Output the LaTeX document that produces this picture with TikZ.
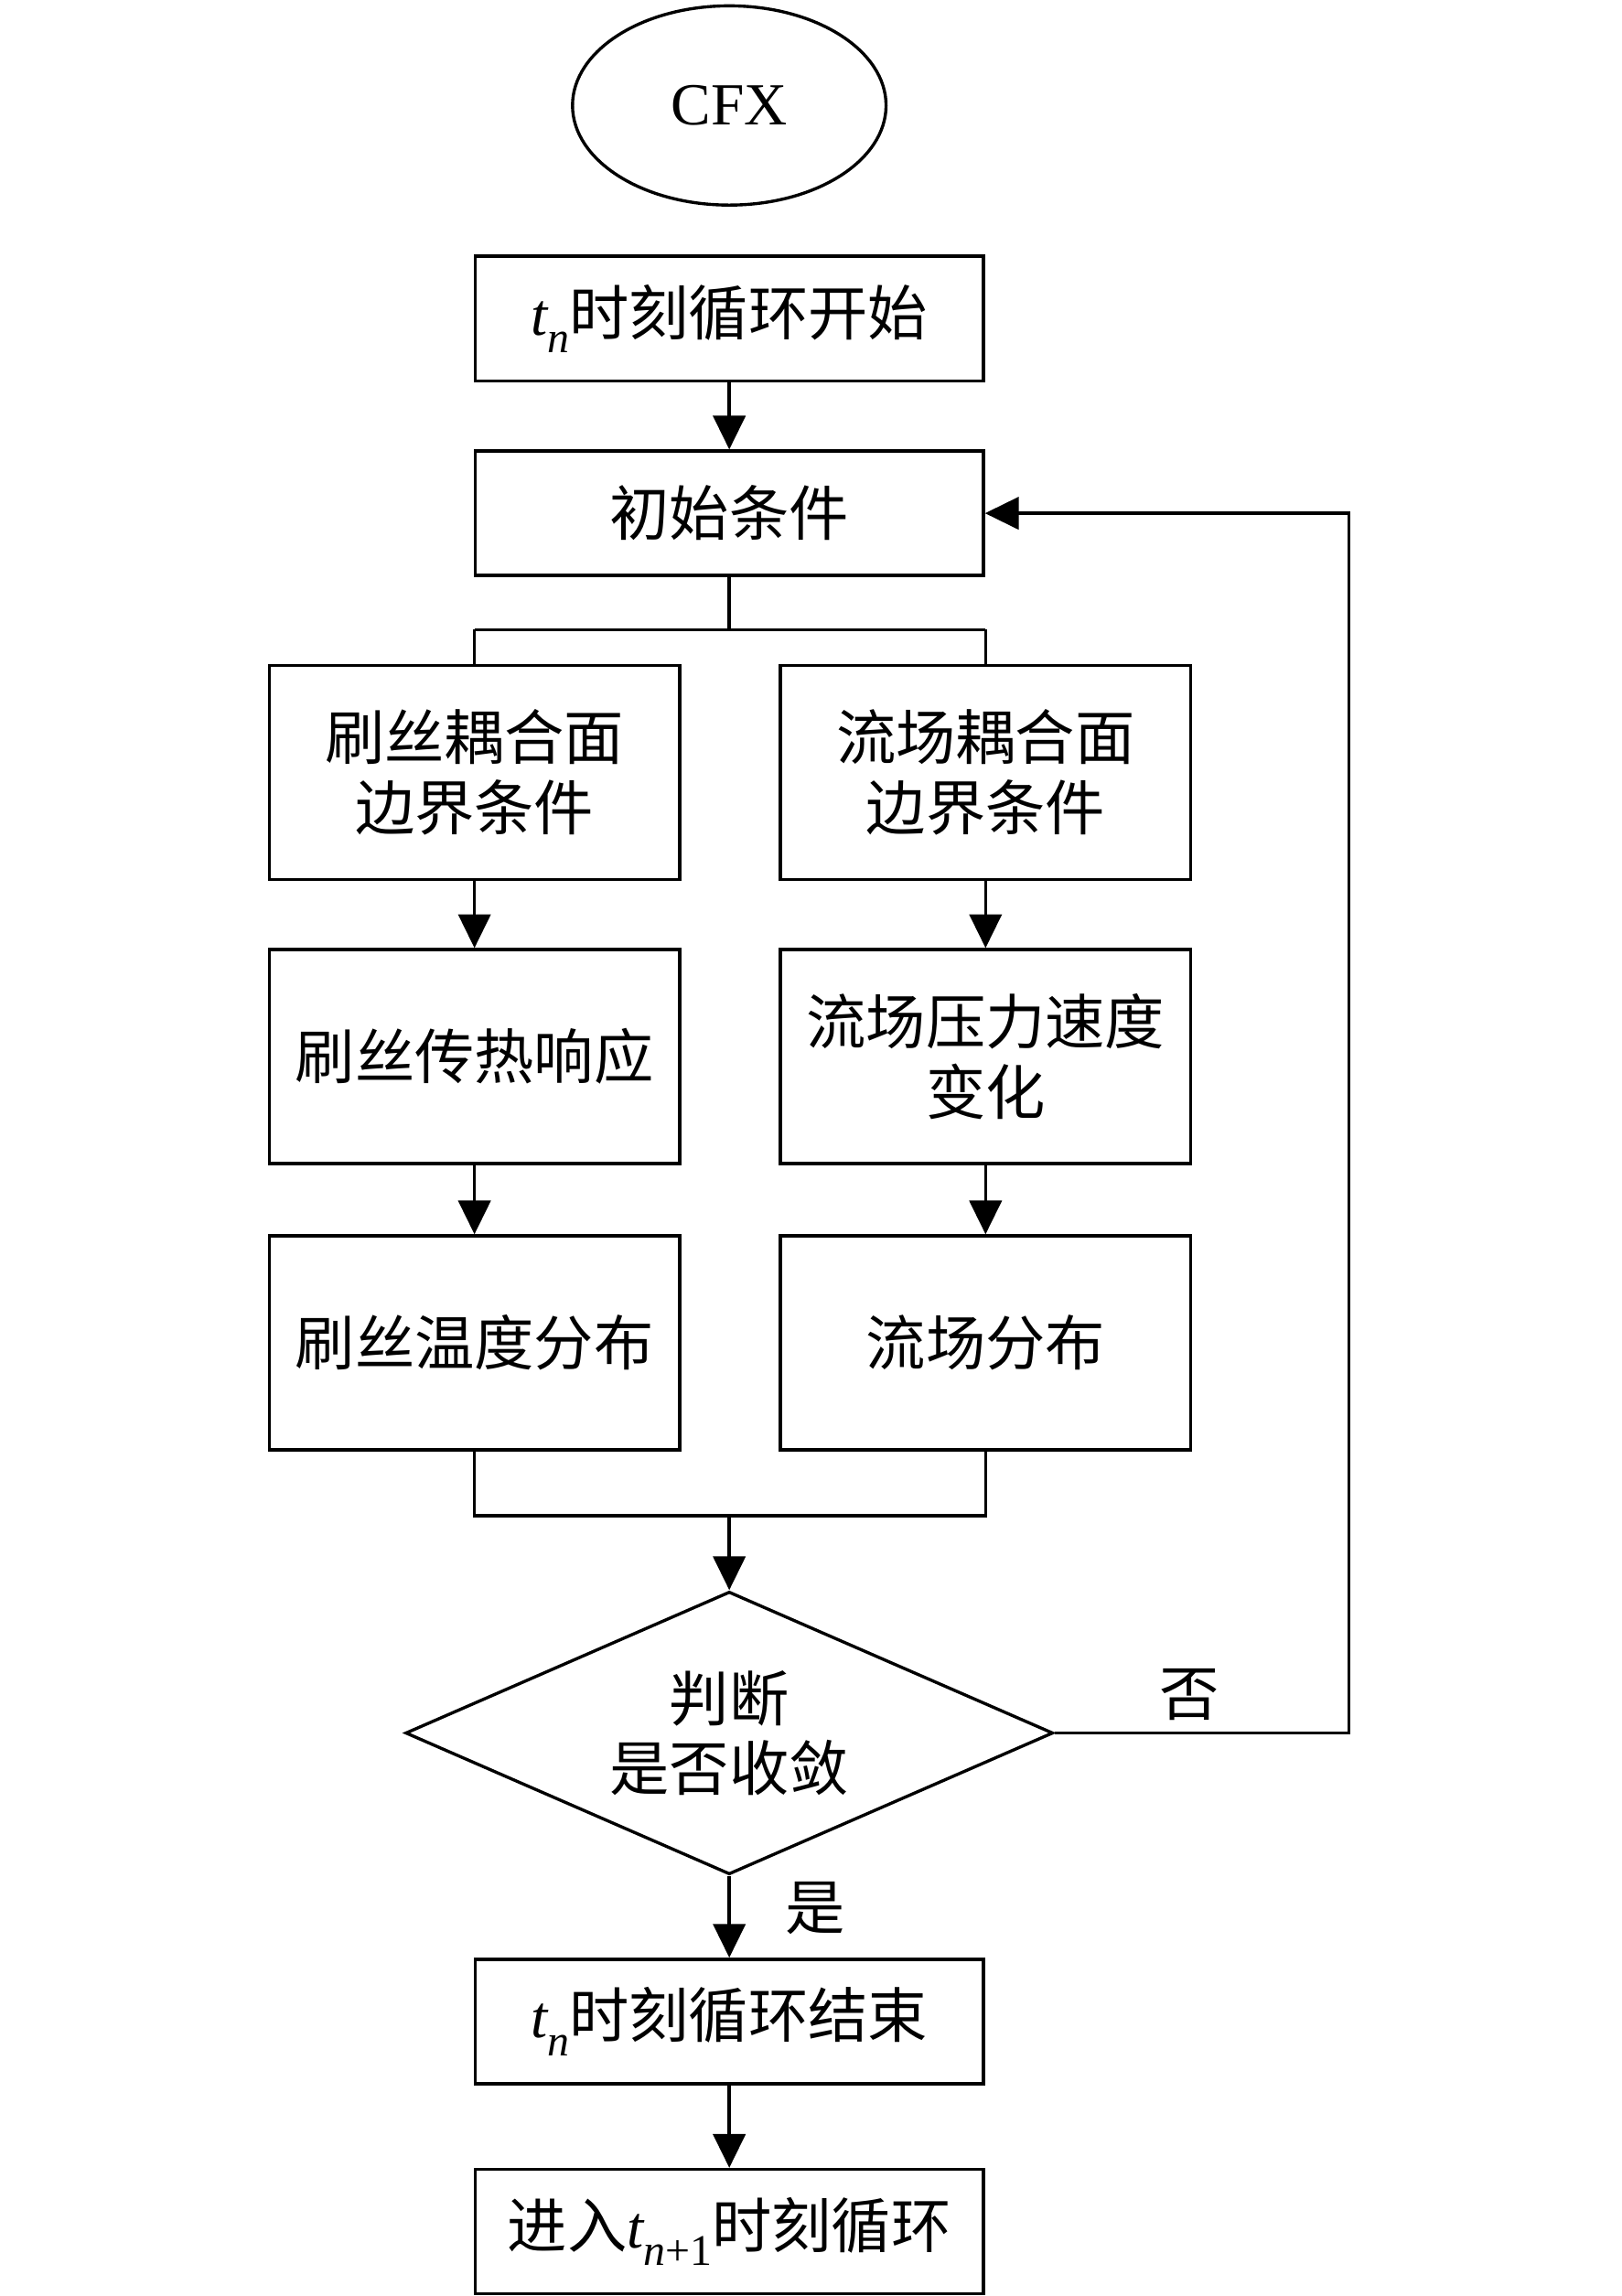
\documentclass[tikz,border=0pt]{standalone}
\usepackage{fontspec}
\setmainfont{Liberation Serif}
\newfontfamily\cjk{Noto Sans CJK SC}
\usepackage{tikz}
\usetikzlibrary{positioning,shapes.geometric,arrows.meta,calc}

\newcommand{\tsub}[1]{{\rmfamily\itshape t}\raisebox{-0.55ex}{\fontsize{8.5}{8.5}\selectfont\rmfamily #1}}

\tikzset{
    txt/.style={font=\fontsize{11.6}{13.6}\selectfont\cjk, align=center, inner sep=0pt},
    box/.style={txt, draw, minimum width=3.47cm, minimum height=0.85cm},
    sidebox/.style={box, minimum width=2.8cm, minimum height=1.46cm},
    oval/.style={txt, draw, ellipse, minimum width=2.14cm, minimum height=1.36cm},
    judge/.style={txt, draw, diamond, aspect=2.29, minimum width=4.42cm, minimum height=1.93cm}
}

\begin{document}
\begin{tikzpicture}[x=0.01cm, y=-0.01cm, line width=0.6pt,
    >={Triangle[length=0.23cm, width=0.22cm]}]
    \useasboundingbox (0,0) rectangle (1107,1568);

    % start and loop head
    \node[oval] (cfx) at (498,72) {\rmfamily CFX};
    \node[box] (start) at (498,217.5) {\tsub{\itshape n}时刻循环开始};
    \node[box] (init) at (498,350.5) {初始条件};

    % two branches
    \node[sidebox] (bc1) at (324,527.5) {刷丝耦合面\\边界条件};
    \node[sidebox] (bc2) at (673,527.5) {流场耦合面\\边界条件};
    \node[sidebox] (heat) at (324,721.5) {刷丝传热响应};
    \node[sidebox] (flow) at (673,721.5) {流场压力速度\\变化};
    \node[sidebox] (temp) at (324,917) {刷丝温度分布};
    \node[sidebox] (field) at (673,917) {流场分布};

    % check and end
    \node[judge] (conv) at (498,1183.5) {判断\\是否收敛};
    \node[box] (stop) at (498,1380.5) {\tsub{\itshape n}时刻循环结束};
    \node[box] (next) at (498,1524) {进入\tsub{{\itshape n}+1}时刻循环};

    \node[txt] (no) at (812,1157) {否};
    \node[txt] (yes) at (557,1303) {是};

    \coordinate (split) at (498,430);
    \coordinate (merge) at (498,1035);
    \coordinate (back) at (921,0);

    \draw[->] (start) -- (init);
    \draw (init) -- (split);
    \draw (split -| bc1) -- (split -| bc2);
    \draw (split -| bc1) -- (bc1);
    \draw (split -| bc2) -- (bc2);

    \draw[->] (bc1) -- (heat);
    \draw[->] (heat) -- (temp);
    \draw[->] (bc2) -- (flow);
    \draw[->] (flow) -- (field);

    \draw (temp) -- (merge -| temp) -- (merge -| field) -- (field);
    \draw[->] (merge) -- (conv.north);

    \draw[->] (conv.east) -- (back |- conv.east) |- (init.east);
    \draw[->] (conv.south) -- (stop);
    \draw[->] (stop) -- (next);
\end{tikzpicture}
\end{document}
